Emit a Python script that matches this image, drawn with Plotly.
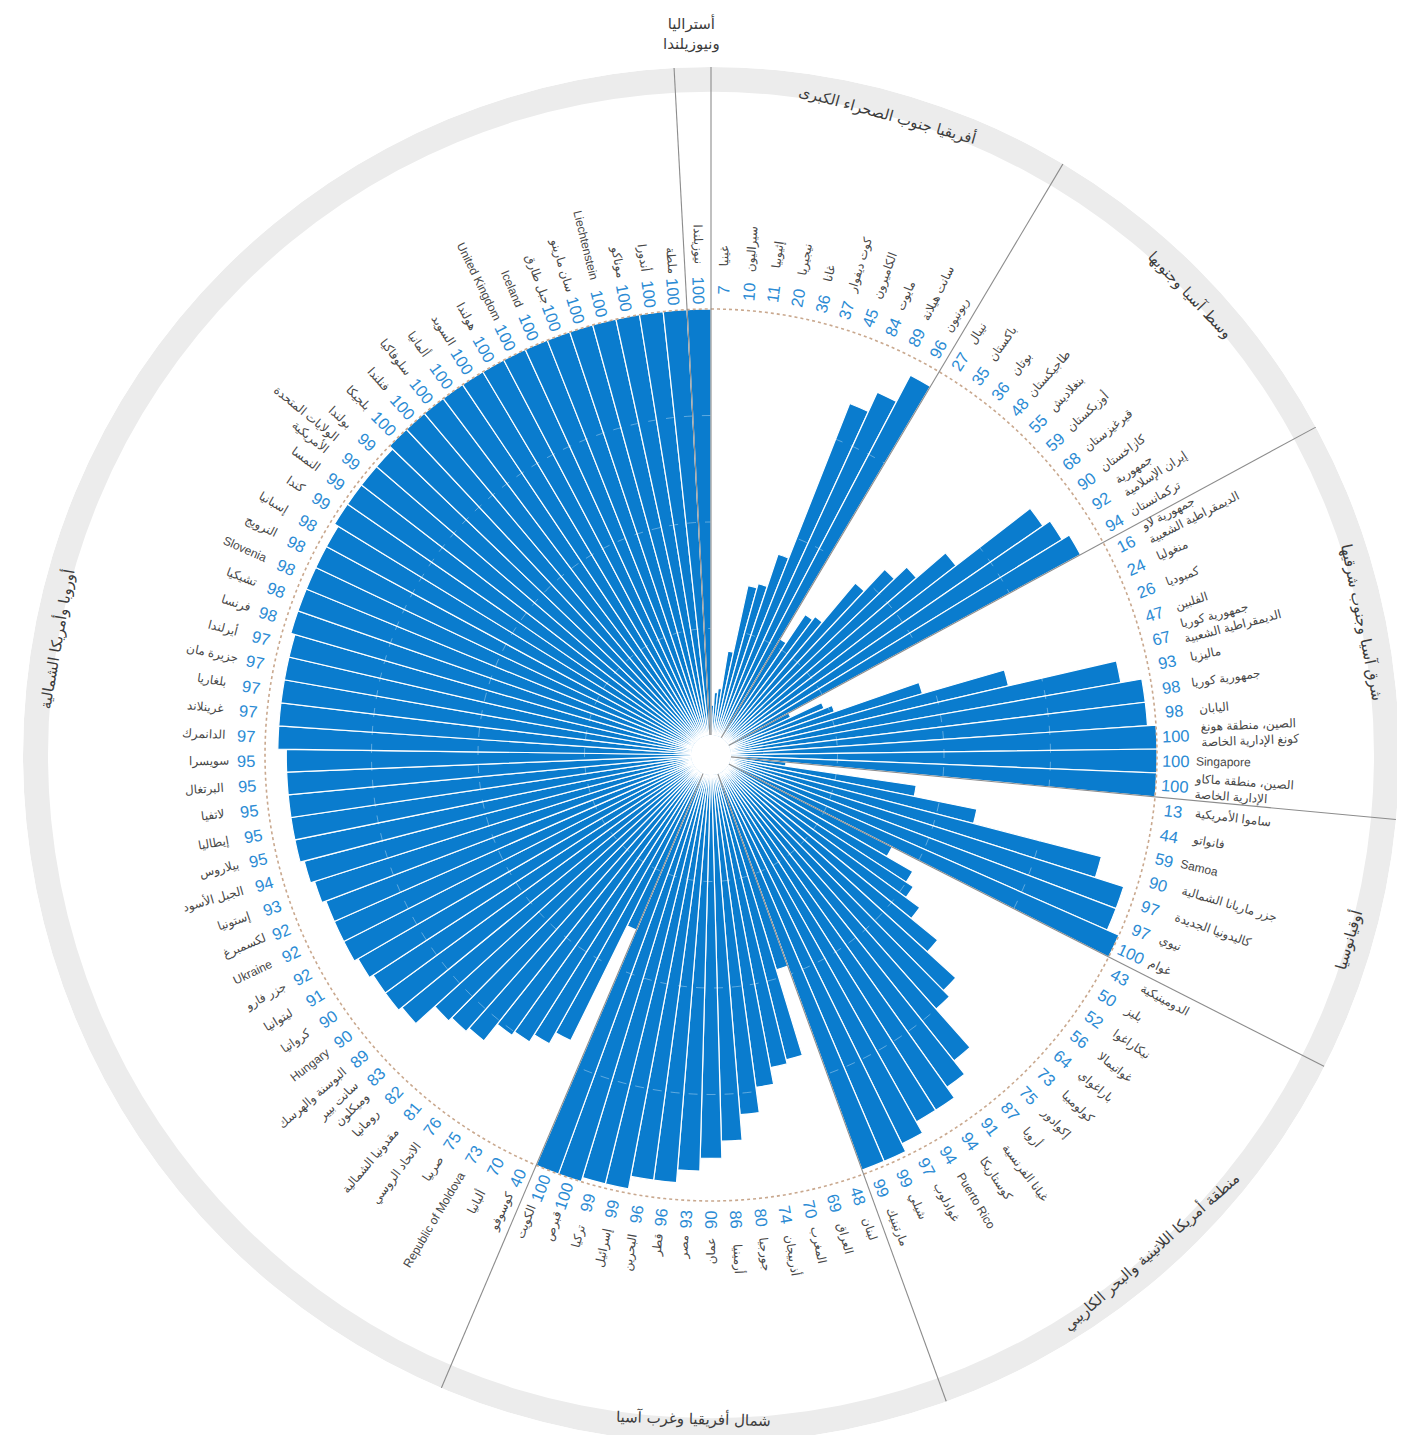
import math
import plotly.graph_objects as go

# ---------------- data (clockwise from 12 o'clock, ascending within region) -------------
regions = [
    "أفريقيا جنوب الصحراء الكبرى",
    "وسط آسيا وجنوبها",
    "شرق آسيا وجنوب شرقيها",
    "أوقيانوسيا",
    "منطقة أمريكا اللاتينية والبحر الكاريبي",
    "شمال أفريقيا وغرب آسيا",
    "أوروبا وأمريكا الشمالية",
    "أستراليا<br>ونيوزيلندا",
]

ssa_names = ["غينيا", "سيراليون", "إثيوبيا", "نيجيريا", "غانا", "كوت ديفوار",
             "الكاميرون", "مايوت", "سانت هيلانة", "ريونيون"]
ssa_vals = [7, 10, 11, 20, 36, 37, 45, 84, 89, 96]

csa_names = ["نيبال", "باكستان", "بوتان", "طاجيكستان", "بنغلاديش", "أوزبكستان",
             "قيرغيزستان", "كازاخستان", "جمهورية<br>إيران الإسلامية", "تركمانستان"]
csa_vals = [27, 35, 36, 48, 55, 59, 68, 90, 92, 94]

eap_names = ["جمهورية لاو<br>الديمقراطية الشعبية", "منغوليا", "كمبوديا", "الفلبين",
             "جمهورية كوريا<br>الديمقراطية الشعبية", "ماليزيا", "جمهورية كوريا", "اليابان",
             "الصين، منطقة هونغ<br>كونغ الإدارية الخاصة", "Singapore",
             "الصين، منطقة ماكاو<br>الإدارية الخاصة"]
eap_vals = [16, 24, 26, 47, 67, 93, 98, 98, 100, 100, 100]

oce_names = ["ساموا الأمريكية", "فانواتو", "Samoa", "جزر ماريانا الشمالية",
             "كاليدونيا الجديدة", "نيوي", "غوام"]
oce_vals = [13, 44, 59, 90, 97, 97, 100]

lac_names = ["الدومينيكية", "بليز", "نيكاراغوا", "غواتيمالا", "باراغواي", "كولومبيا",
             "إكوادور", "أروبا", "غيانا الفرنسية", "كوستاريكا", "Puerto Rico",
             "غوادلوب", "شيلي", "مارتينيك"]
lac_vals = [43, 50, 52, 56, 64, 73, 75, 87, 91, 94, 94, 97, 99, 99]

nawa_names = ["لبنان", "العراق", "المغرب", "أذربيجان", "جورجيا", "أرمينيا", "عمان",
              "مصر", "قطر", "البحرين", "إسرائيل", "تركيا", "قبرص", "الكويت"]
nawa_vals = [48, 69, 70, 74, 80, 86, 90, 93, 96, 96, 99, 99, 100, 100]

eur_names = ["كوسوفو", "ألبانيا", "Republic of Moldova", "صربيا", "الاتحاد الروسي",
             "مقدونيا الشمالية", "رومانيا", "سانت بيير<br>وميكلون", "البوسنة والهرسك",
             "Hungary", "كرواتيا", "ليتوانيا", "جزر فارو", "Ukraine", "لكسمبرغ",
             "إستونيا", "الجبل الأسود", "بيلاروس", "إيطاليا", "لاتفيا", "البرتغال",
             "سويسرا", "الدانمرك", "غرينلاند", "بلغاريا", "جزيرة مان", "أيرلندا",
             "فرنسا", "تشيكيا", "Slovenia", "النرويج", "إسبانيا", "كندا", "النمسا",
             "الولايات المتحدة<br>الأمريكية", "بولندا", "بلجيكا", "فنلندا", "سلوفاكيا",
             "ألمانيا", "السويد", "هولندا", "United Kingdom", "Iceland", "جبل طارق",
             "سان مارينو", "Liechtenstein", "موناكو", "أندورا", "ملطة"]
eur_vals = [40, 70, 73, 75, 76, 81, 82, 83, 89, 90, 90, 91, 92, 92, 92, 93, 94,
            95, 95, 95, 95, 95, 97, 97, 97, 97, 97, 98, 98, 98, 98, 98, 99, 99, 99, 99,
            100, 100, 100, 100, 100, 100, 100, 100, 100, 100, 100, 100, 100, 100]

anz_names = ["نيوزيلندا"]
anz_vals = [100]

groups = [(ssa_names, ssa_vals), (csa_names, csa_vals), (eap_names, eap_vals),
          (oce_names, oce_vals), (lac_names, lac_vals), (nawa_names, nawa_vals),
          (eur_names, eur_vals), (anz_names, anz_vals)]

# ---------------- geometry / style ----------------
W, H = 1405, 1435
CX, CY = 703, 747          # centre of the wheel, px
R_OUT = 688                # outer radius of the polar area, px
R_HOLE = 20
PX100 = 446                # radius of value 100, px
K = (PX100 - R_HOLE) / 100.0
RMAX = (R_OUT - R_HOLE) / K
RING_IN = (663 - R_HOLE) / K

BLUE = "#0a7cce"
NUM_BLUE = "#2b8bd4"
GREY_TXT = "#474747"

names, vals, bounds = [], [], [0]
for n, v in groups:
    names += n
    vals += v
    bounds.append(len(names))
N = len(vals)
w = 360.0 / N
thetas = [(i + 0.5) * w for i in range(N)]

fig = go.Figure()

# outer grey ring
fig.add_trace(go.Barpolar(r=[RMAX - RING_IN], base=[RING_IN], theta=[180], width=[360],
                          marker=dict(color="#ececec", line=dict(width=0)),
                          hoverinfo="skip", showlegend=False))

circ = list(range(0, 361, 1))
# dotted 100 circle
fig.add_trace(go.Scatterpolar(r=[100] * len(circ), theta=circ, mode="lines",
                              line=dict(color="#c9a88e", width=1.6, dash="dot"),
                              hoverinfo="skip", showlegend=False))

# bars
fig.add_trace(go.Barpolar(r=vals, theta=thetas, width=[w] * N,
                          marker=dict(color=BLUE, line=dict(color="white", width=1.2)),
                          hovertext=names, showlegend=False))

# faint inner grid circles over bars
for g in [25, 50, 75]:
    fig.add_trace(go.Scatterpolar(r=[g] * len(circ), theta=circ, mode="lines",
                                  line=dict(color="rgba(255,255,255,0.35)", width=1, dash="dash"),
                                  hoverinfo="skip", showlegend=False))

# region separator lines
for b in bounds[:-1]:
    t = b * w
    fig.add_trace(go.Scatterpolar(r=[0, RMAX], theta=[t, t], mode="lines",
                                  line=dict(color="#8c8c8c", width=1.1),
                                  hoverinfo="skip", showlegend=False))


def to_paper(theta, rpx):
    a = math.radians(theta)
    x = CX + rpx * math.sin(a)
    y = CY - rpx * math.cos(a)
    return x / W, 1 - y / H


def text_w(s, size):
    best = 0
    for line in s.split("<br>"):
        t = 0
        for ch in line:
            if ch == " ":
                t += 0.28
            elif "\u0600" <= ch <= "\u06ff":
                t += 0.47
            elif ch.isupper():
                t += 0.66
            else:
                t += 0.5
        best = max(best, t)
    return best * size


annotations = []
NAME_SIZE = 12
for i, (nm, v, th) in enumerate(zip(names, vals, thetas)):
    right = th < 180
    ang = th - 90 if right else th - 270
    x, y = to_paper(th, PX100 + 19)
    annotations.append(dict(x=x, y=y, xref="paper", yref="paper", text=str(v),
                            textangle=ang, showarrow=False, xanchor="center", yanchor="middle",
                            font=dict(family="Liberation Sans, Arial, sans-serif", size=16.5,
                                      color=NUM_BLUE)))
    tw = text_w(nm, NAME_SIZE)
    x, y = to_paper(th, PX100 + 39 + tw / 2)
    annotations.append(dict(x=x, y=y, xref="paper", yref="paper", text=nm,
                            textangle=ang, showarrow=False, xanchor="center", yanchor="middle",
                            align="left" if right else "right",
                            font=dict(family="Liberation Sans, DejaVu Sans, sans-serif",
                                      size=NAME_SIZE, color=GREY_TXT)))

# region labels on the ring
for gi, label in enumerate(regions):
    mid = (bounds[gi] + bounds[gi + 1]) / 2 * w
    if gi == len(regions) - 1:
        x, y = to_paper(mid, 722)
        ang = 0
    else:
        x, y = to_paper(mid, 664)
        ang = mid if (mid < 90 or mid > 270) else mid - 180
        if mid > 270:
            ang = mid - 360
    annotations.append(dict(x=x, y=y, xref="paper", yref="paper", text=label,
                            textangle=ang, showarrow=False, xanchor="center", yanchor="middle",
                            font=dict(family="DejaVu Sans, sans-serif", size=15, color="#3c3c3c")))

fig.update_layout(
    width=W, height=H, margin=dict(l=0, r=0, t=0, b=0),
    paper_bgcolor="white", plot_bgcolor="white", showlegend=False,
    polar=dict(
        domain=dict(x=[(CX - R_OUT) / W, (CX + R_OUT) / W],
                    y=[1 - (CY + R_OUT) / H, 1 - (CY - R_OUT) / H]),
        hole=R_HOLE / R_OUT,
        bgcolor="rgba(0,0,0,0)",
        barmode="overlay",
        radialaxis=dict(range=[0, RMAX], visible=False, showgrid=False),
        angularaxis=dict(rotation=90, direction="clockwise", visible=False, showgrid=False),
    ),
    annotations=annotations,
)

fig.write_html("out.html")
